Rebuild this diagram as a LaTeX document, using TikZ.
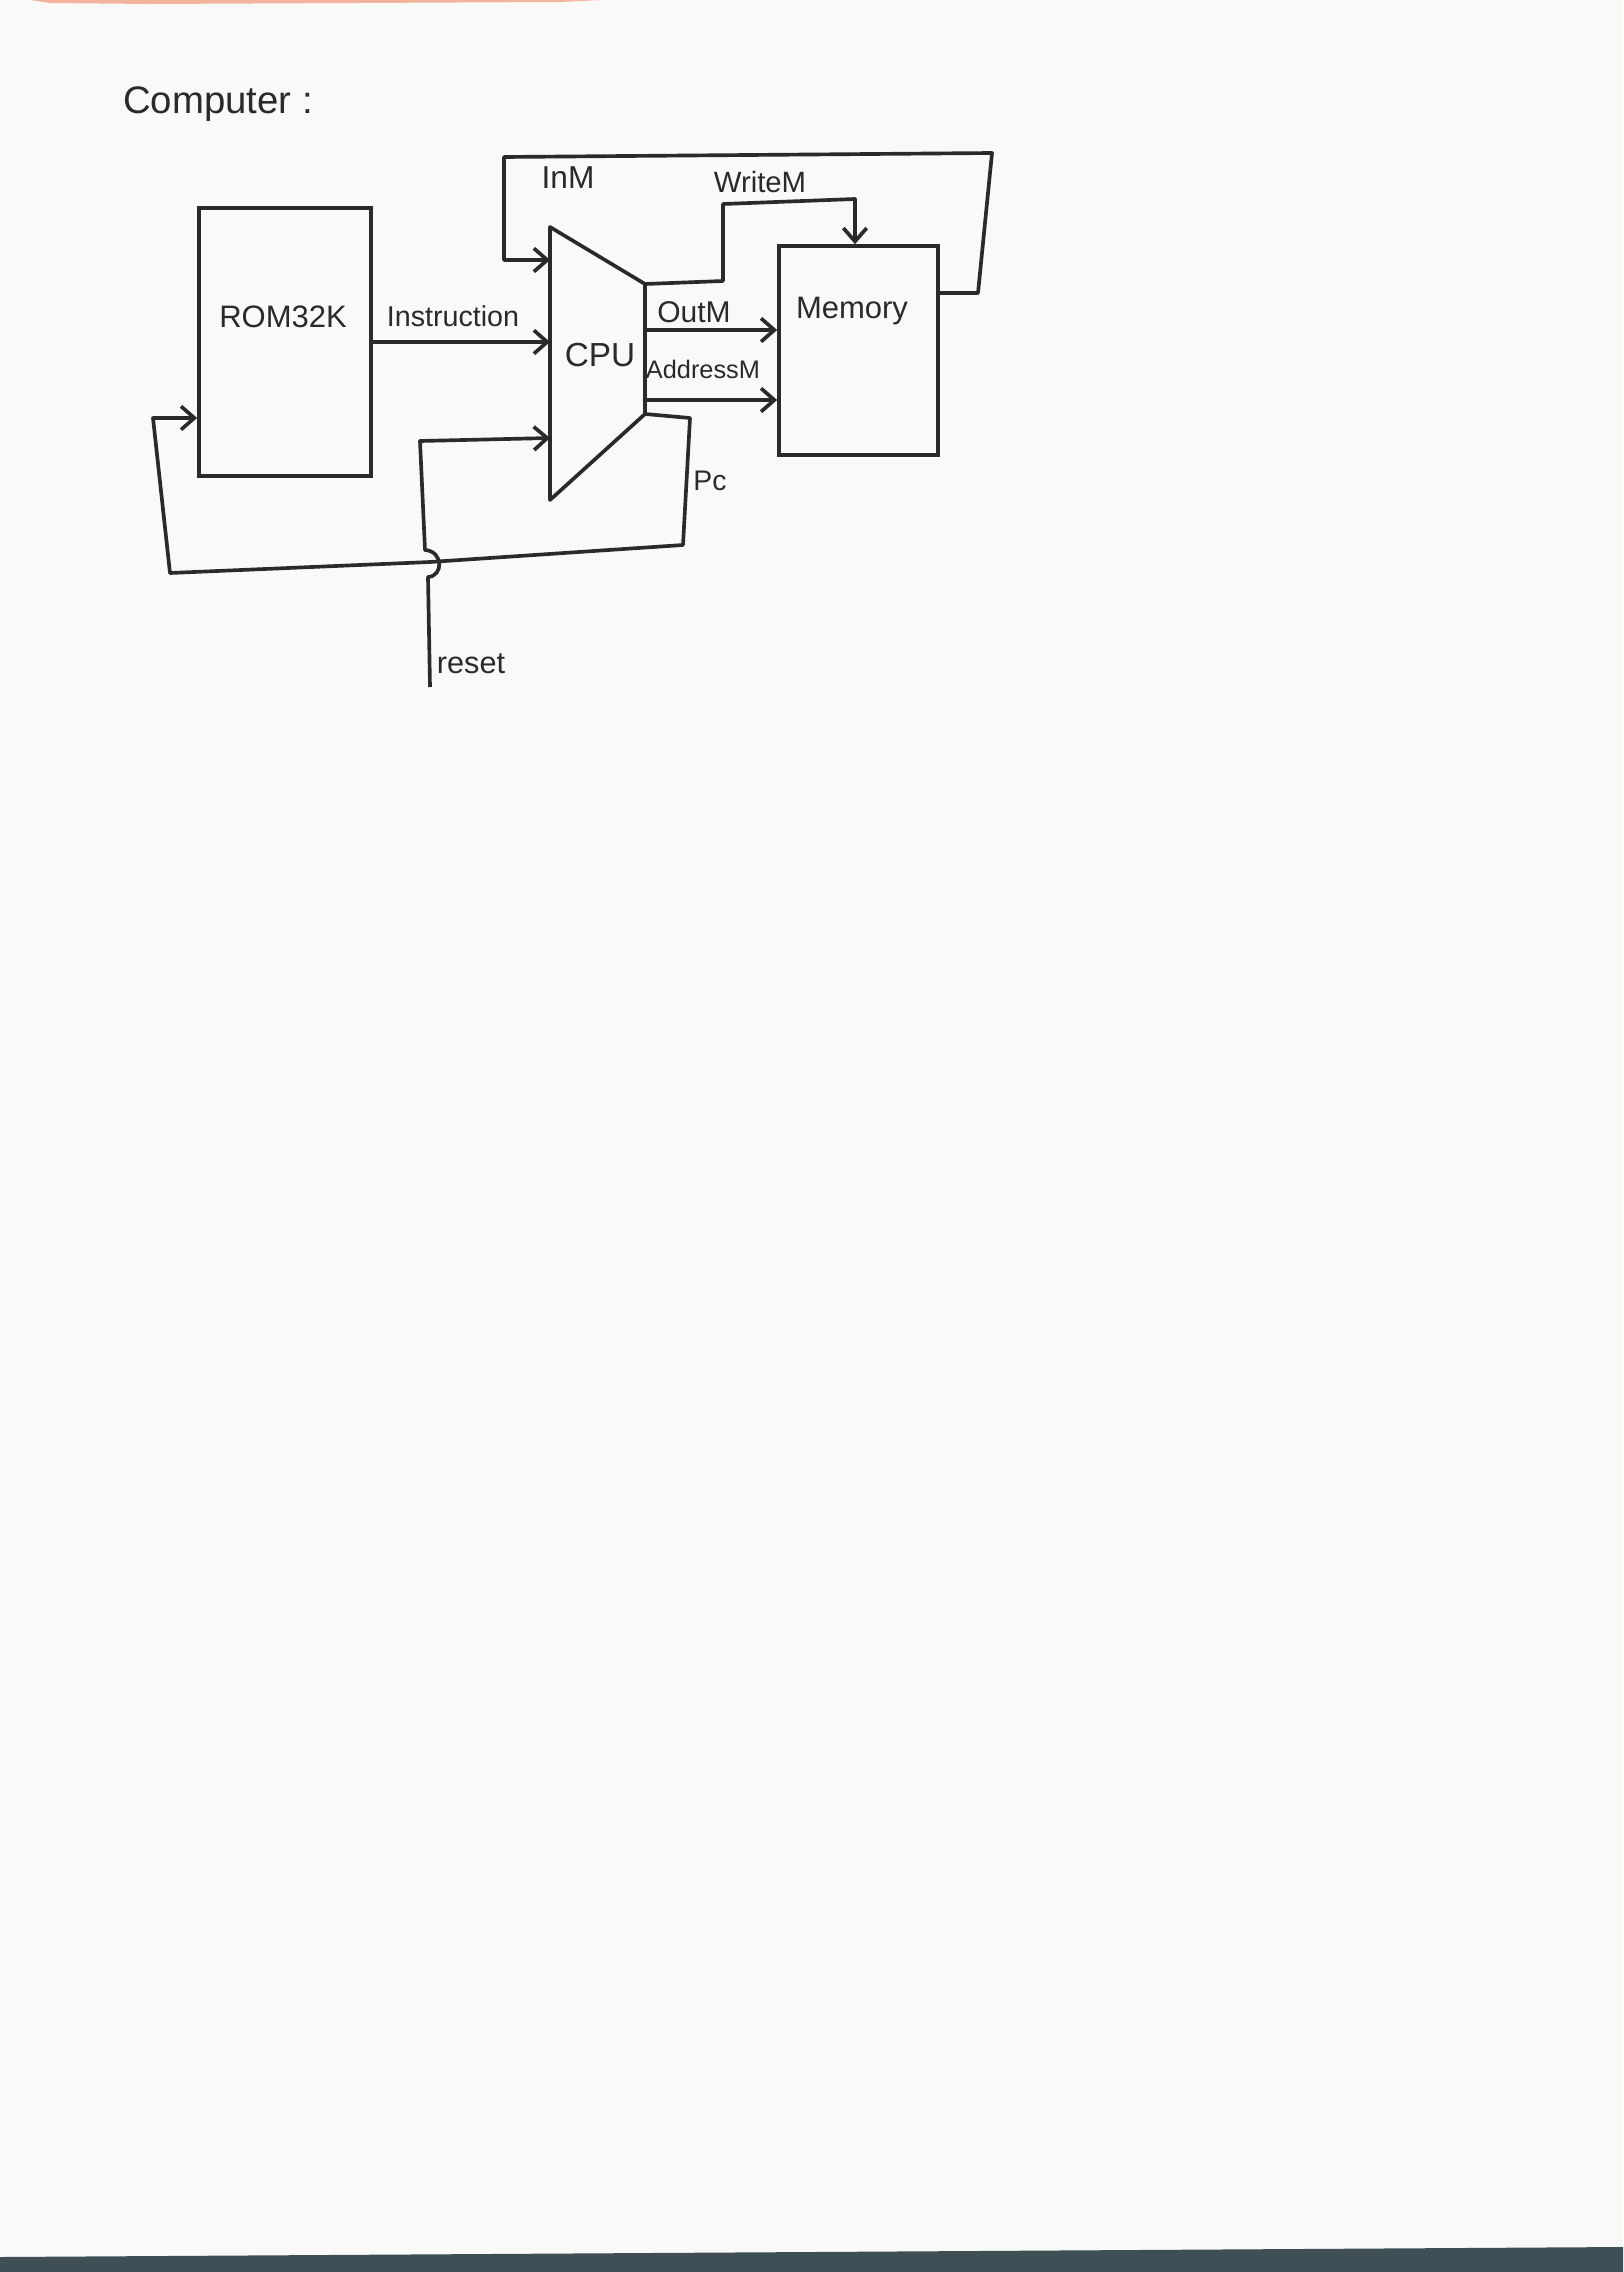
\documentclass[tikz,border=0pt]{standalone}
\usepackage{fontspec}
\setmainfont{Liberation Sans}
\usetikzlibrary{arrows.meta}
\definecolor{ink}{HTML}{2A2A2A}
\definecolor{paper}{HTML}{F9F9F8}
\definecolor{edgeband}{HTML}{3E5056}
\definecolor{smear}{HTML}{F2B49C}
\begin{document}
\begin{tikzpicture}[x=0.3pt,y=-0.3pt,
  wire/.style={draw=ink, line width=1.1pt, line join=round},
  arr/.style={wire, -{Straight Barb[length=4pt,width=7pt,line width=1.1pt]}},
  box/.style={draw=ink, line width=1.1pt, inner sep=0pt},
  fs/.style={font=\fontsize{#1}{#1}\selectfont},
  lbl/.style={text=ink, inner sep=0pt, anchor=base, fs=9}]
% page
\fill[paper] (0,0) rectangle (1623,2272);
\useasboundingbox (0,0) rectangle (1623,2272);
\fill[smear] (30,0) -- (600,0) -- (560,2) -- (150,4) -- (50,3) -- cycle;
\fill[edgeband] (0,2257) -- (1623,2247) -- (1623,2272) -- (0,2272) -- cycle;

% title
\node[lbl, fs=11.5] (title) at (218,113) {Computer :};

% blocks
\node[box, minimum width=51.6pt, minimum height=80.4pt] (rom) at (285,342) {};
\node[box, minimum width=47.7pt, minimum height=62.7pt] (mem) at (858.5,350.5) {};
\coordinate (cpuTL) at (550,227);
\coordinate (cpuBL) at (550,500);
\coordinate (cpuTR) at (645,284);
\coordinate (cpuBR) at (645,414);
\draw[wire] (cpuTL) -- (cpuTR) -- (cpuBR) -- (cpuBL) -- cycle;

% block labels
\node[lbl, fs=9.3] (romt) at (283,327) {ROM32K};
\node[lbl, fs=10] (cpul) at (600,366) {CPU};
\node[lbl, fs=9.3] (meml) at (852,318) {Memory};

% Instruction
\coordinate (in2) at (550,342);
\draw[arr] (rom.east |- in2) -- (in2);
\node[lbl, fs=8.6] (inst) at (453,326) {Instruction};

% InM loop
\coordinate (inmA) at (978,293);
\coordinate (inmB) at (992,153);
\coordinate (inmC) at (504,157);
\coordinate (in1) at (550,260);
\draw[arr] (mem.east |- inmA) -- (inmA) -- (inmB) -- (inmC) -- (inmC |- in1) -- (in1);
\node[lbl, fs=9.5] (inml) at (568,188) {InM};

% WriteM
\coordinate (wA) at (723,281);
\coordinate (wB) at (723,204);
\coordinate (wC) at (855,199);
\draw[arr] (cpuTR) -- (wA) -- (wB) -- (wC) -- (wC |- mem.north);
\node[lbl, fs=8.8] (wml) at (760,192) {WriteM};

% OutM
\coordinate (o1) at (645,330);
\draw[arr] (o1) -- (o1 -| mem.west);
\node[lbl, fs=9] (outl) at (694,322) {OutM};

% AddressM
\coordinate (o2) at (645,400);
\draw[arr] (o2) -- (o2 -| mem.west);
\node[lbl, fs=7.6] (addl) at (703,378) {AddressM};

% Pc feedback
\coordinate (pcB) at (690,418);
\coordinate (pcC) at (683,545);
\coordinate (pcD) at (430,562);
\coordinate (pcE) at (170,573);
\coordinate (pcF) at (153,418);
\draw[arr] (cpuBR) -- (pcB) -- (pcC) -- (pcD) -- (pcE) -- (pcF) -- (rom.west |- pcF);
\node[lbl, fs=8.5] (pcl) at (710,490) {Pc};

% reset
\coordinate (rA) at (430,687);
\coordinate (rB) at (428,577);
\coordinate (rC) at (425,550);
\coordinate (rD) at (420,441);
\coordinate (in3) at (550,438);
\draw[arr] (rA) -- (rB) .. controls (444,576) and (443,551) .. (rC) -- (rD) -- (in3);
\node[lbl, fs=9.2] (rstl) at (471,673) {reset};
\end{tikzpicture}
\end{document}
